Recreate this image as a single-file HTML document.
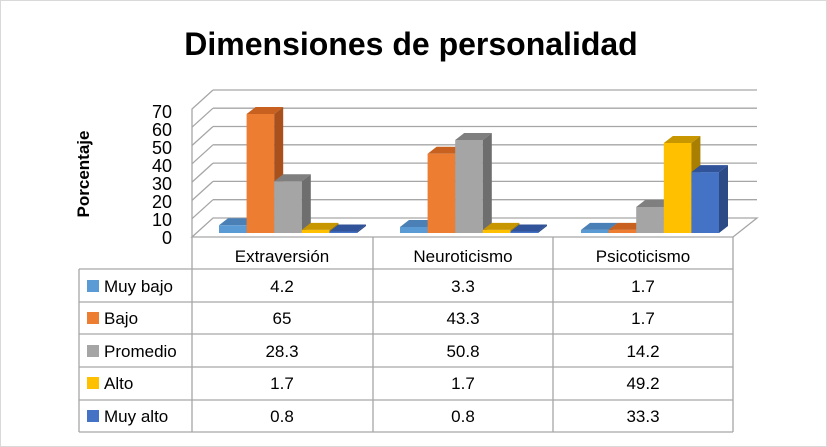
<!DOCTYPE html>
<html><head><meta charset="utf-8"><style>
body{margin:0;background:#fff}
svg{display:block;font-family:"Liberation Sans",Calibri,sans-serif}
</style></head><body>
<svg width="827" height="447" viewBox="0 0 827 447" xmlns="http://www.w3.org/2000/svg">
<rect x="0.5" y="0.5" width="826" height="446" fill="#fff" stroke="#d9d9d9"/>
<text x="411" y="55" font-size="32" font-weight="bold" text-anchor="middle" fill="#000">Dimensiones de personalidad</text>
<text transform="translate(89,174) rotate(-90)" font-size="17" font-weight="bold" text-anchor="middle">Porcentaje</text>
<g font-size="18" text-anchor="end" fill="#000">
<text x="172" y="244">0</text><text x="172" y="226">10</text><text x="172" y="208">20</text><text x="172" y="190">30</text><text x="172" y="172">40</text><text x="172" y="154">50</text><text x="172" y="136">60</text><text x="172" y="118">70</text>
</g>
<g stroke="#a6a6a6" stroke-width="1.3" fill="none">
<path d="M192 237 L213 218 L757 218 L733 237 Z"/>
<path d="M192 237 V109 L213 90"/>
<path d="M213 199.7H757M213 181.4H757M213 163.1H757M213 144.8H757M213 126.5H757M213 108.2H757M213 90H757"/>
<path d="M192 218.7L213 199.7M192 200.4L213 181.4M192 182.1L213 163.1M192 163.8L213 144.8M192 145.5L213 126.5M192 127.2L213 108.2"/>
</g>
<g>
<g transform="translate(219,225.3)"><rect width="27.6" height="7.7" fill="#5b9bd5"/><polygon points="0,0 9,-7 36.6,-7 27.6,0" fill="#4a80b5"/><polygon points="27.6,0 36.6,-7 36.6,0.7 27.6,7.7" fill="#3f73a6"/></g>
<g transform="translate(246.6,114)"><rect width="27.6" height="119" fill="#ed7d31"/><polygon points="0,0 9,-7 36.6,-7 27.6,0" fill="#c8611f"/><polygon points="27.6,0 36.6,-7 36.6,112 27.6,119" fill="#a9511c"/></g>
<g transform="translate(274.2,181.2)"><rect width="27.6" height="51.8" fill="#a5a5a5"/><polygon points="0,0 9,-7 36.6,-7 27.6,0" fill="#7f7f7f"/><polygon points="27.6,0 36.6,-7 36.6,44.8 27.6,51.8" fill="#6e6e6e"/></g>
<g transform="translate(301.8,229.9)"><rect width="27.6" height="3.1" fill="#ffc000"/><polygon points="0,0 9,-7 36.6,-7 27.6,0" fill="#c89700"/><polygon points="27.6,0 36.6,-7 36.6,-3.9 27.6,3.1" fill="#a87f00"/></g>
<g transform="translate(329.4,231.5)"><rect width="27.6" height="1.5" fill="#4472c4"/><polygon points="0,0 9,-7 36.6,-7 27.6,0" fill="#30539a"/><polygon points="27.6,0 36.6,-7 36.6,-5.5 27.6,1.5" fill="#2b4a86"/></g>
<g transform="translate(400,227)"><rect width="27.6" height="6" fill="#5b9bd5"/><polygon points="0,0 9,-7 36.6,-7 27.6,0" fill="#4a80b5"/><polygon points="27.6,0 36.6,-7 36.6,-1 27.6,6" fill="#3f73a6"/></g>
<g transform="translate(427.6,153.8)"><rect width="27.6" height="79.2" fill="#ed7d31"/><polygon points="0,0 9,-7 36.6,-7 27.6,0" fill="#c8611f"/><polygon points="27.6,0 36.6,-7 36.6,72.2 27.6,79.2" fill="#a9511c"/></g>
<g transform="translate(455.2,140)"><rect width="27.6" height="93" fill="#a5a5a5"/><polygon points="0,0 9,-7 36.6,-7 27.6,0" fill="#7f7f7f"/><polygon points="27.6,0 36.6,-7 36.6,86 27.6,93" fill="#6e6e6e"/></g>
<g transform="translate(482.8,229.9)"><rect width="27.6" height="3.1" fill="#ffc000"/><polygon points="0,0 9,-7 36.6,-7 27.6,0" fill="#c89700"/><polygon points="27.6,0 36.6,-7 36.6,-3.9 27.6,3.1" fill="#a87f00"/></g>
<g transform="translate(510.4,231.5)"><rect width="27.6" height="1.5" fill="#4472c4"/><polygon points="0,0 9,-7 36.6,-7 27.6,0" fill="#30539a"/><polygon points="27.6,0 36.6,-7 36.6,-5.5 27.6,1.5" fill="#2b4a86"/></g>
<g transform="translate(581,229.9)"><rect width="27.6" height="3.1" fill="#5b9bd5"/><polygon points="0,0 9,-7 36.6,-7 27.6,0" fill="#4a80b5"/><polygon points="27.6,0 36.6,-7 36.6,-3.9 27.6,3.1" fill="#3f73a6"/></g>
<g transform="translate(608.6,229.9)"><rect width="27.6" height="3.1" fill="#ed7d31"/><polygon points="0,0 9,-7 36.6,-7 27.6,0" fill="#c8611f"/><polygon points="27.6,0 36.6,-7 36.6,-3.9 27.6,3.1" fill="#a9511c"/></g>
<g transform="translate(636.2,207)"><rect width="27.6" height="26" fill="#a5a5a5"/><polygon points="0,0 9,-7 36.6,-7 27.6,0" fill="#7f7f7f"/><polygon points="27.6,0 36.6,-7 36.6,19 27.6,26" fill="#6e6e6e"/></g>
<g transform="translate(663.8,143)"><rect width="27.6" height="90" fill="#ffc000"/><polygon points="0,0 9,-7 36.6,-7 27.6,0" fill="#c89700"/><polygon points="27.6,0 36.6,-7 36.6,83 27.6,90" fill="#a87f00"/></g>
<g transform="translate(691.4,172.1)"><rect width="27.6" height="60.9" fill="#4472c4"/><polygon points="0,0 9,-7 36.6,-7 27.6,0" fill="#30539a"/><polygon points="27.6,0 36.6,-7 36.6,53.9 27.6,60.9" fill="#2b4a86"/></g>
</g>
<g stroke="#a6a6a6" fill="none" stroke-width="1.3">
<path d="M79 269H733M79 302H733M79 334H733M79 367H733M79 400H733M79 432H733"/>
<path d="M79 269V432M192 237V432M373 237V432M553 237V432M733 237V432"/>
</g>
<g font-size="17" text-anchor="middle" fill="#000">
<text x="282" y="262">Extraversión</text><text x="463" y="262">Neuroticismo</text><text x="643" y="262">Psicoticismo</text>
<text x="282" y="292">4.2</text><text x="463" y="292">3.3</text><text x="643" y="292">1.7</text>
<text x="282" y="324">65</text><text x="463" y="324">43.3</text><text x="643" y="324">1.7</text>
<text x="282" y="357">28.3</text><text x="463" y="357">50.8</text><text x="643" y="357">14.2</text>
<text x="282" y="389">1.7</text><text x="463" y="389">1.7</text><text x="643" y="389">49.2</text>
<text x="282" y="422">0.8</text><text x="463" y="422">0.8</text><text x="643" y="422">33.3</text>
</g>
<g font-size="17" fill="#000">
<rect x="87" y="280" width="12" height="12" fill="#5b9bd5"/><text x="104" y="292">Muy bajo</text>
<rect x="87" y="312" width="12" height="12" fill="#ed7d31"/><text x="104" y="324">Bajo</text>
<rect x="87" y="345" width="12" height="12" fill="#a5a5a5"/><text x="104" y="357">Promedio</text>
<rect x="87" y="377" width="12" height="12" fill="#ffc000"/><text x="104" y="389">Alto</text>
<rect x="87" y="410" width="12" height="12" fill="#4472c4"/><text x="104" y="422">Muy alto</text>
</g>
</svg>
</body></html>
